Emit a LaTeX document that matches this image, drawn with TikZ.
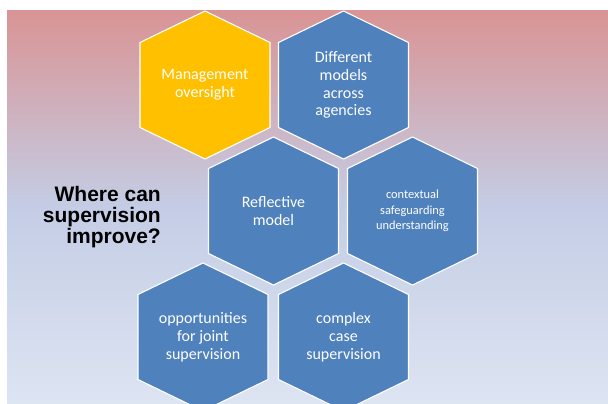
\documentclass[tikz,border=0pt]{standalone}
\usepackage{fontspec}
\setmainfont{Carlito}
\newfontfamily\titlefont{Liberation Sans}
\usepackage{tikz}

\definecolor{hexblue}{RGB}{79,129,189}
\definecolor{hexgold}{RGB}{255,192,0}
\definecolor{bgtop}{RGB}{217,148,149}
\definecolor{bgmid}{RGB}{196,205,229}
\definecolor{bgbot}{RGB}{221,228,242}

\begin{document}
\begin{tikzpicture}
[
x=1pt, y=-1pt,
hexcell/.style={draw=white, line width=1.1pt, line join=miter},
hextext/.style={text=white, align=center, inner sep=0pt, font=\fontsize{16}{17.8}\selectfont},
smalltext/.style={hextext, font=\fontsize{12.4}{15.6}\selectfont}
]

\useasboundingbox (0,0) rectangle (608,404);
\shade[top color=bgtop, bottom color=bgbot, middle color=bgmid] (7,11) rectangle (608,403);

% honeycomb
\foreach \cx/\cy/\col in {205/85/hexgold, 343.5/85/hexblue, 273.5/211/hexblue, 412.5/211/hexblue, 203/337/hexblue, 343.5/337/hexblue}
	\draw[hexcell, fill=\col] (\cx,\cy-74) -- (\cx+65,\cy-42.5) -- (\cx+65,\cy+42.5) -- (\cx,\cy+74) -- (\cx-65,\cy+42.5) -- (\cx-65,\cy-42.5) -- cycle;

\node[anchor=east, align=right, inner sep=0pt, font=\titlefont\bfseries\fontsize{21}{21.3}\selectfont] (question) at (161,217) {Where can\\supervision\\improve?};

\node[hextext] (mgmt) at (205,85) {Management\\oversight};
\node[hextext] (models) at (343.5,85) {Different\\models\\across\\agencies};
\node[hextext] (reflect) at (273.5,211) {Reflective\\model};
\node[smalltext] (context) at (412.5,211) {contextual\\safeguarding\\understanding};
\node[hextext] (joint) at (203,337) {opportunities\\for joint\\supervision};
\node[hextext] (complex) at (343.5,337) {complex\\case\\supervision};
\end{tikzpicture}
\end{document}
